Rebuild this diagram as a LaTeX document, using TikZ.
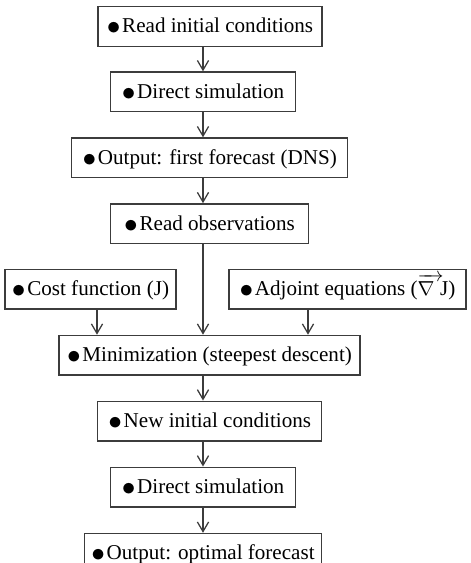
\documentclass[tikz,border=0pt]{standalone}
\usepackage{fontspec}
\setmainfont{Liberation Serif}
\usepackage{amsmath,amssymb}
\usepackage{graphicx}
\usepackage{tikz}
\usetikzlibrary{arrows.meta,positioning,calc}
\usepackage{xcolor}
\definecolor{linegray}{RGB}{60,60,60}
\newcommand{\itembul}{\raisebox{-0.09em}{\scalebox{1.35}{$\bullet$}}\kern1.2pt}

\begin{document}
\begin{tikzpicture}[
    box/.style={rectangle, draw=linegray, line width=1pt, minimum height=0.99cm, inner sep=0pt, text height=10pt, text depth=0.8pt, align=center, font=\fontsize{15}{18}\selectfont},
    arrow/.style={-{Straight Barb[length=2.4mm,width=2.8mm]}, draw=linegray, line width=0.9pt}
]
\useasboundingbox (0,0) rectangle (11.775,-14.075);

\node[box, minimum width=5.6cm] (init) at (5.25,-0.6625) {\itembul Read initial conditions};
\node[box, minimum width=4.615cm] (sim1) at (5.075,-2.295) {\itembul Direct simulation};
\node[box, minimum width=6.9cm] (out1) at (5.2425,-3.945) {\itembul Output: first forecast (DNS)};
\node[box, minimum width=4.94cm] (obs) at (5.2375,-5.5925) {\itembul Read observations};
\node[box, minimum width=4.275cm] (cost) at (2.2625,-7.2325) {\itembul Cost function (J)};
\node[box, minimum width=5.925cm] (adj) at (8.6875,-7.2325) {\itembul Adjoint equations ($\overrightarrow{\nabla\;\,}\!$J)};
\node[box, minimum width=7.525cm] (mini) at (5.2375,-8.88) {\itembul Minimization (steepest descent)};
\node[box, minimum width=5.6cm] (new) at (5.2425,-10.525) {\itembul New initial conditions};
\node[box, minimum width=4.615cm] (sim2) at (5.075,-12.175) {\itembul Direct simulation};
\node[box, minimum width=5.935cm] (out2) at (5.075,-13.8325) {\itembul Output: optimal forecast};

% main line
\draw[arrow] (init.south -| sim1) -- (sim1.north);
\draw[arrow] (sim1.south) -- (sim1.south |- out1.north);
\draw[arrow] (out1.south -| sim1) -- (obs.north -| sim1);
\draw[arrow] (obs.south -| sim1) -- (mini.north -| sim1);
\draw[arrow] (mini.south -| sim1) -- (new.north -| sim1);
\draw[arrow] (new.south -| sim1) -- (sim2.north);
\draw[arrow] (sim2.south) -- (sim2.south |- out2.north);

% side inputs
\draw[arrow] ([xshift=0.1625cm]cost.south) -- ([xshift=0.1625cm]cost.south |- mini.north);
\draw[arrow] ([xshift=-0.9875cm]adj.south) -- ([xshift=-0.9875cm]adj.south |- mini.north);
\end{tikzpicture}
\end{document}
